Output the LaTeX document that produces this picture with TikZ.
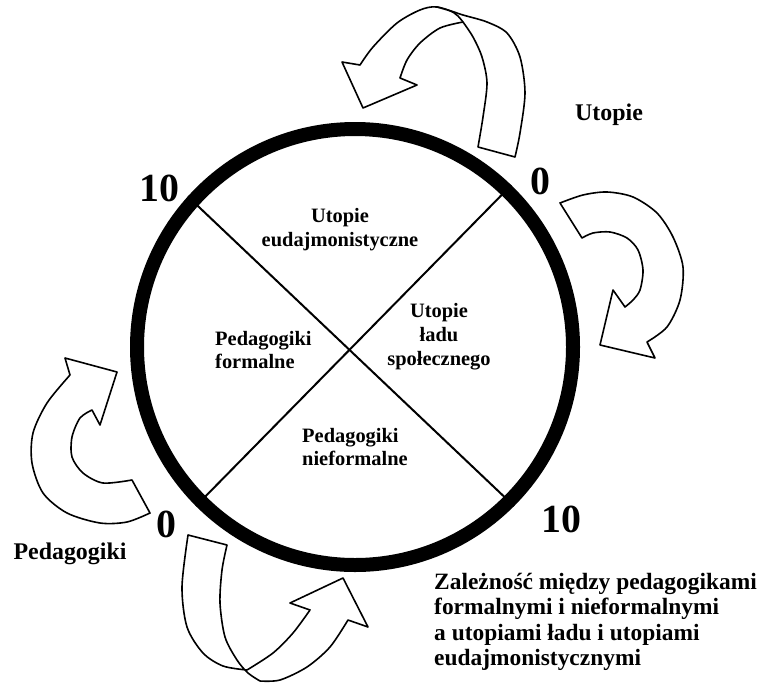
\documentclass[tikz,border=0pt]{standalone}
\usepackage{fontspec}
\setmainfont{Liberation Serif}
\usepackage{tikz}
\usetikzlibrary{shapes}

\begin{document}
\begin{tikzpicture}[x=1bp,y=1bp,
  bigarrow/.style={draw=black,fill=white,line width=1.6bp,line join=round},
  liczba/.style={inner sep=0pt,font=\bfseries\fontsize{40}{40}\selectfont},
  pole/.style={inner sep=0pt,font=\bfseries\fontsize{20.5}{24}\selectfont},
  napis/.style={inner sep=0pt,font=\bfseries\fontsize{24}{26}\selectfont},
  opis/.style={inner sep=0pt,font=\bfseries\fontsize{23.5}{25.5}\selectfont}]
\useasboundingbox (0,0) rectangle (769,-687);

\draw[bigarrow] (342,-62) -- (360,-65) -- plot[smooth] coordinates {(360,-65) (373,-47) (397,-23) (420,-10) (437,-7) (463,-15) (487,-22) (507,-33) (520,-57) (525,-93) (520,-133) (515,-157)} -- (478,-147) -- plot[smooth] coordinates {(478,-147) (483,-117) (487,-83) (482,-57) (473,-37) (463,-22)} -- plot[smooth] coordinates {(463,-22) (440,-28) (420,-43) (407,-60) (400,-78)} -- (417,-85) -- (363,-108) -- cycle;
\draw[bigarrow] (463,-22) .. controls (455,-12) .. (437,-7);
\draw[bigarrow] (560,-203) -- plot[smooth] coordinates {(560,-203) (583,-195) (607,-192) (633,-197) (657,-213) (673,-237) (683,-267) (680,-300) (667,-327) (647,-342)} -- (655,-358) -- (600,-345) -- (613,-290) -- (625,-307) -- plot[smooth] coordinates {(625,-307) (633,-300) (640,-290) (643,-270) (638,-250) (627,-238) (610,-232) (593,-233) (582,-238)} -- cycle;
\draw[bigarrow] (65,-358) -- (117,-372) -- (100,-425) -- (92,-410) -- plot[smooth] coordinates {(92,-410) (80,-418) (72,-437) (72,-457) (83,-473) (103,-483) (132,-480)} -- (150,-513) -- plot[smooth] coordinates {(150,-513) (127,-522) (100,-523) (67,-513) (43,-493) (32,-463) (33,-433) (47,-403) (70,-375)} -- cycle;
\draw[bigarrow] (188,-535) -- (227,-545) -- plot[smooth] coordinates {(227,-545) (222,-570) (220,-603) (225,-637) (237,-660) (248,-673) (260,-681)} -- plot[smooth] coordinates {(260,-681) (280,-680) (307,-667) (330,-647) (348,-620)} -- (368,-627) -- (343,-578) -- (290,-603) -- (310,-610) -- plot[smooth] coordinates {(310,-610) (293,-633) (273,-653) (247,-670)} -- plot[smooth] coordinates {(247,-670) (223,-666) (203,-653) (187,-627) (182,-587) (188,-535)} -- cycle;

\node (ring) at (355bp,-347bp)[draw,circle,line width=14bp,minimum size=436bp] {};
\draw [line width=2bp] (ring.138) -- (ring.-45);
\draw [line width=2bp] (ring.46) -- (ring.225);

\node (n1) at (159bp,-188bp)[liczba] {10};
\node (n2) at (540bp,-181bp)[liczba] {0};
\node (n3) at (166bp,-524bp)[liczba] {0};
\node (n4) at (561bp,-519bp)[liczba] {10};

\node (ueud) at (340bp,-230bp)[pole,align=center] {Utopie\\eudajmonistyczne};
\node (ulad) at (439bp,-337bp)[pole,align=center] {Utopie\\ładu\\społecznego};
\node (pform) at (215bp,-350bp)[pole,align=left,anchor=west] {Pedagogiki\\formalne};
\node (pnform) at (302bp,-447bp)[pole,align=left,anchor=west] {Pedagogiki\\nieformalne};

\node (utopie) at (609bp,-115bp)[napis] {Utopie};
\node (pedag) at (70bp,-554bp)[napis] {Pedagogiki};
\node (zal) at (434bp,-573bp)[opis,align=left,anchor=north west] {Zależność między pedagogikami\\formalnymi i nieformalnymi\\a utopiami ładu i utopiami\\eudajmonistycznymi};
\end{tikzpicture}
\end{document}
